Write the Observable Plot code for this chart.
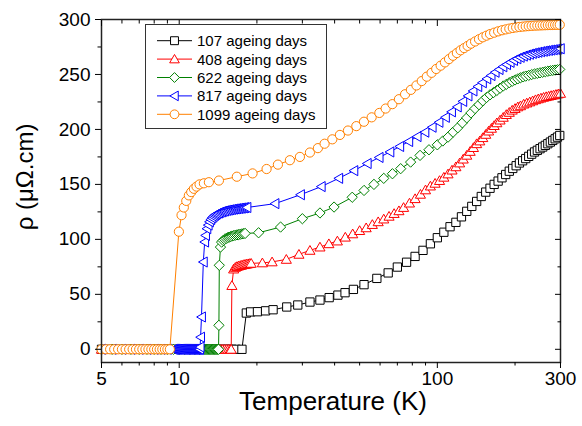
<!DOCTYPE html>
<html><head><meta charset="utf-8">
<script src="https://cdn.jsdelivr.net/npm/d3@7"></script>
<script src="https://cdn.jsdelivr.net/npm/@observablehq/plot@0.6"></script>
<style>body{margin:0;background:#fff}</style>
</head><body><div id="chart"></div>
<script>
// Temperature (K), resistivity (µΩ.cm) pairs
const d107 = [[5.0,0],[5.4,0],[5.8,0],[6.2,0],[6.6,0],[7.0,0],[7.4,0],[7.8,0],[8.2,0],[8.6,0],[9.0,0],[9.5,0],[10.0,0],[10.5,0],[11.0,0],[11.5,0],[12.0,0],[12.5,0],[13.0,0],[13.5,0],[14.0,0],[14.5,0],[15.0,0],[15.5,0],[16.0,0],[16.6,0],[17.5,0],
[18.2,33],[18.9,34],[20.1,34.2],[21.6,35],[23.1,36],[26.1,38.5],[28.8,40.3],[32.1,43],[35.1,44.8],[38.1,47],[41.2,49.3],[43.9,51.5],[47.3,54.5],[52.0,58.8],[58.3,64.5],[64.5,69.5],[70,74.8],[76,79.2],[82,84.5],[88,90],[94,96],[100,101.5],[106,106.5],[112,111.5],[118,115.5],[124,120.5],[130,125.5],[136,130],[142,134.5],[148,139],[154,143],[160,146.5],[166,150],[172,153],[178,156],[184,159],[190,162],[196,164.5],[202,167],[208,169.5],[214,171.5],[220,173.5],[226,175.5],[232,177.5],[238,179.5],[244,181],[250,182.5],[256,184],[262,185.5],[268,187],[274,188.5],[280,190],[286,191.5],[292,193],[298,194.5]];

const d408 = [[5.0,0],[5.5,0],[6.0,0],[6.5,0],[7.0,0],[7.5,0],[8.0,0],[8.5,0],[9.0,0],[9.5,0],[10.0,0],[10.5,0],[11.0,0],[11.5,0],[12.0,0],[12.5,0],[12.75,0],[13.0,0],[13.25,0],[13.5,0],[13.75,0],[14.0,0],[14.25,0],[14.5,0],[14.75,0],[15.0,0],[15.25,0],[15.5,0],[15.75,0],[15.9,0],
[16.0,58],[16.25,73],[16.5,74.5],[16.75,75.3],[17.0,75.8],[17.25,76.2],[17.5,76.6],[17.75,77],[18.0,77.3],[18.25,77.5],[18.5,77.8],[18.75,78],[19.0,78.2],[21.0,78.6],[22.9,79.5],[26.0,81.8],[29.1,86.4],[32.1,90],[35.1,93],[38.0,96],[41.0,98.5],[44.0,102],[47.0,105],[50,108],[53,110.5],[56,113.5],[59,116],[62,118.5],[65,121],[68,123.5],[71,126],[74,129],[78,133],[82,137],[86,141],[90,145],[94,148.5],[98,151],[102,153.5],[106,156.5],[110,159.5],[114,163],[118,166],[122,169.5],[126,173],[130,176.5],[134,180],[138,183.5],[142,187],[146,189.5],[150,192.5],[154,195.5],[158,198.5],[162,201],[166,203.5],[170,206],[175,208.5],[180,211],[185,213.5],[190,215.5],[195,217.5],[200,219],[205,220.5],[210,221.5],[216,223],[222,224],[228,225],[234,226],[240,227],[246,227.8],[252,228.5],[258,229.2],[264,229.8],[270,230.3],[276,230.8],[282,231.3],[288,231.8],[294,232.3],[300,232.8]];

const d622 = [[5.0,0],[5.5,0],[6.0,0],[6.5,0],[7.0,0],[7.5,0],[8.0,0],[8.5,0],[9.0,0],[9.5,0],[10.0,0],[10.5,0],[11.0,0],[11.5,0],[12.0,0],[12.5,0],[12.6,0],[12.7,0],[12.8,0],[12.9,0],[13.0,0],[13.1,0],[13.2,0],[13.3,0],[13.4,0],[13.5,0],[13.6,0],[13.7,0],[13.8,0],[13.9,0],[14.0,0],[14.1,0],[14.2,0],
[14.25,21.8],[14.3,76.4],[14.45,93],[14.6,97.5],[14.8,99],[15.0,100],[15.2,100.8],[15.4,101.5],[15.6,102],[15.8,102.5],[16.0,103],[16.25,103.4],[16.5,103.8],[16.75,104.1],[17.0,104.4],[17.25,104.7],[17.5,105],[17.75,105.2],[18.0,105.4],[20.3,106],[24.7,111.2],[30.0,118.8],[35.1,124],[39.8,129.4],[46.8,138.3],[52.0,144.5],[56.8,150],[62.0,155.5],[67.0,159.7],[72.1,164.3],[78.8,170.3],[85.7,176.4],[92.8,181.5],[100,186],[105,189.5],[110,193],[115,197.5],[120,201.5],[125,206],[130,210.5],[135,215],[140,219],[145,222.5],[150,226],[155,229],[160,231.5],[165,233.5],[170,235.5],[175,237.5],[180,239.5],[185,241],[190,242.5],[195,243.8],[200,245],[205,246],[210,247],[215,247.8],[220,248.5],[226,249.2],[232,249.9],[238,250.5],[244,251],[250,251.5],[256,252],[262,252.5],[268,252.9],[274,253.3],[280,253.7],[286,254],[292,254.3],[298,254.6]];

const d817 = [[5.0,0],[5.5,0],[6.0,0],[6.5,0],[7.0,0],[7.5,0],[8.0,0],[8.5,0],[9.0,0],[9.5,0],[9.6,0],[9.7,0],[9.8,0],[9.9,0],[10.0,0],[10.1,0],[10.2,0],[10.3,0],[10.4,0],[10.5,0],[10.6,0],[10.7,0],[10.8,0],[10.9,0],[11.0,0],[11.1,0],[11.2,0],[11.3,0],[11.4,0],[11.5,0],[11.6,0],[11.7,0],[11.8,0],[11.9,0],[12.0,0],
[12.05,2],[12.1,11],[12.2,29.4],[12.4,79.4],[12.55,97.6],[12.65,103.6],[12.8,109.7],[12.95,113],[13.1,116],[13.25,118],[13.4,119.5],[13.55,120.8],[13.7,121.8],[13.85,122.6],[14.0,123.3],[14.2,124],[14.4,124.6],[14.6,125.1],[14.8,125.5],[15.0,125.9],[15.25,126.3],[15.5,126.6],[15.75,126.9],[16.0,127.2],[16.25,127.5],[16.5,127.7],[16.75,127.9],[17.0,128.1],[17.25,128.3],[17.5,128.5],[17.75,128.7],[18.0,128.9],[18.3,129],[23.5,132.5],[29.5,140.6],[35.5,148],[41.5,155.5],[47.5,162.5],[53.5,169],[59.5,174.5],[65.5,179.5],[71.5,184.5],[77.5,189],[83.5,193.5],[89.5,197.5],[95.5,202],[101.5,206.5],[107.5,211],[113.5,216],[119.5,220.5],[125.5,225.5],[131.5,230.5],[137.5,235],[143.5,239],[149.5,242.5],[155.5,246],[161.5,249],[167.5,252],[173.5,254.5],[179.5,257],[185.5,259],[191.5,261],[197.5,262.8],[203.5,264.3],[209.5,265.6],[215.5,266.7],[221.5,267.6],[227.5,268.4],[233.5,269.1],[239.5,269.7],[245.5,270.2],[251.5,270.7],[257.5,271.1],[263.5,271.5],[269.5,271.9],[275.5,272.2],[281.5,272.5],[287.5,272.8],[293.5,273.1],[299.5,273.4]];

const d1099 = [[5.0,0],[5.2,0],[5.4,0],[5.6,0],[5.8,0],[6.0,0],[6.2,0],[6.4,0],[6.6,0],[6.8,0],[7.0,0],[7.2,0],[7.4,0],[7.6,0],[7.8,0],[8.0,0],[8.2,0],[8.4,0],[8.6,0],[8.8,0],[9.0,0],[9.2,0],
[9.97,107],[10.21,122],[10.42,129],[10.65,135],[10.9,140],[11.13,143],[11.4,146],[11.67,148],[11.99,150],[12.46,151],[13.03,152],[14.25,153.5],[16.72,157],[19.24,160],[21.8,164],[24.12,168],[26.84,172],[29.35,175],[32.09,179],[34.46,183],[36.58,187],[39.19,191],[41.93,195],[45.06,199],[48.54,203],[51.96,207],[55.66,211],[59.62,215],[63.07,219],[66.96,223],[71,227.5],[75,232],[79,236],[83,240],[87,244],[91,248],[95,251.5],[99,255],[103,258],[107,261],[111,264],[115,267],[119,269.5],[123,272],[127,274],[131,276],[135,278],[140,280],[145,282],[150,283.8],[155,285.3],[160,286.7],[166,288],[172,289.2],[178,290.2],[184,291],[190,291.7],[196,292.3],[202,292.8],[208,293.2],[214,293.5],[220,293.8],[226,294],[232,294.2],[238,294.4],[244,294.5],[250,294.6],[256,294.7],[262,294.8],[268,294.9],[274,295],[280,295],[286,295.1],[292,295.1],[298,295.2]];

const labels = ["107 ageing days","408 ageing days","622 ageing days","817 ageing days","1099 ageing days"];
const colors = ["#000000","#ff0000","#008000","#0000ff","#ff8000"];
const xMajor = [5,10,100,300];
const xMinor = [6,7,8,9,20,30,40,50,60,70,80,90,200];
const yMajor = [0,50,100,150,200,250,300];
const yMinor = [25,75,125,175,225,275];

const rad = s => Math.sqrt(s/Math.PI);
const symSquare = {draw(c,s){const h=rad(s)*0.9;c.moveTo(-h,-h);c.lineTo(h,-h);c.lineTo(h,h);c.lineTo(-h,h);c.closePath();}};
const symTriUp = {draw(c,s){const r=rad(s);c.moveTo(0,-r*1.05);c.lineTo(r*1.1,r*0.85);c.lineTo(-r*1.1,r*0.85);c.closePath();}};
const symDiamond = {draw(c,s){const d=rad(s)*1.12;c.moveTo(0,-d);c.lineTo(d,0);c.lineTo(0,d);c.lineTo(-d,0);c.closePath();}};
const symTriLeft = {draw(c,s){const r=rad(s);c.moveTo(-r*1.05,0);c.lineTo(r*0.85,-r*1.1);c.lineTo(r*0.85,r*1.1);c.closePath();}};
const symCircle = {draw(c,s){const r=rad(s);c.moveTo(r,0);c.arc(0,0,r,0,2*Math.PI);c.closePath();}};
const symbols = [symSquare, symTriUp, symDiamond, symTriLeft, symCircle];
const datasets = [d107, d408, d622, d817, d1099];
const R = 4.6;

const seriesMarks = datasets.flatMap((d, i) => {
  const rows = d.map(([T, rho]) => ({T, rho}));
  return [
    Plot.line(rows, {x: "T", y: "rho", stroke: colors[i], strokeWidth: 1}),
    Plot.dot(rows, {x: "T", y: "rho", symbol: symbols[i], r: R, stroke: colors[i], fill: "white", strokeWidth: 1})
  ];
});

const noText = () => "";
const chart = Plot.plot({
  width: 582, height: 426,
  marginLeft: 101, marginRight: 22, marginTop: 19, marginBottom: 64,
  style: {fontFamily: "'Liberation Sans', Arial, sans-serif", fontSize: "19px", color: "#000", background: "white"},
  x: {type: "log", domain: [4.99999, 300.0001]},
  y: {domain: [-12, 300.0001]},
  marks: [
    ...seriesMarks,
    Plot.frame({stroke: "#222", strokeWidth: 1.5}),
    Plot.axisX({ticks: xMajor, anchor: "bottom", tickSize: 6, tickPadding: 3, tickFormat: d => String(d), fontSize: 19, label: null}),
    Plot.axisX({ticks: xMinor, anchor: "bottom", tickSize: 3.5, tickFormat: noText, label: null}),
    Plot.axisX({ticks: xMajor, anchor: "top", tickSize: -6, tickFormat: noText, label: null}),
    Plot.axisX({ticks: xMinor, anchor: "top", tickSize: -3.5, tickFormat: noText, label: null}),
    Plot.axisY({ticks: yMajor, anchor: "left", tickSize: 6, tickPadding: 5, tickFormat: d => String(d), fontSize: 19, label: null}),
    Plot.axisY({ticks: yMinor, anchor: "left", tickSize: 3.5, tickFormat: noText, label: null}),
    Plot.axisY({ticks: yMajor, anchor: "right", tickSize: -6, tickFormat: noText, label: null}),
    Plot.axisY({ticks: yMinor, anchor: "right", tickSize: -3.5, tickFormat: noText, label: null})
  ]
});
document.getElementById("chart").appendChild(chart);

const svg = d3.select(chart);
// make sure the first decade-edge tick (5 K) is present, placed via the plot's own x scale
const xs = chart.scale("x");
const hasFive = Array.from(chart.querySelectorAll("text")).some(t => t.textContent === "5");
if (!hasFive) {
  const x5 = xs.apply(5);
  svg.append("line").attr("x1", x5).attr("x2", x5).attr("y1", 362).attr("y2", 368)
    .attr("stroke", "#000").attr("stroke-width", 1);
  svg.append("line").attr("x1", x5).attr("x2", x5).attr("y1", 19).attr("y2", 25)
    .attr("stroke", "#000").attr("stroke-width", 1);
  svg.append("text").attr("x", x5).attr("y", 371).attr("dy", "0.71em").attr("text-anchor", "middle")
    .attr("font-size", 19).attr("fill", "#000").text("5");
}
// axis titles
svg.append("text").attr("x", 333).attr("y", 410).attr("text-anchor", "middle")
  .attr("font-size", 26).attr("fill", "#000").text("Temperature (K)");
svg.append("text").attr("transform", "translate(33,177) rotate(-90)").attr("text-anchor", "middle")
  .attr("font-size", 24).attr("fill", "#000").text("ρ (μΩ.cm)");

// legend
const lg = svg.append("g").attr("font-size", 15).attr("text-anchor", "start");
lg.append("rect").attr("x", 145.5).attr("y", 24.5).attr("width", 181).attr("height", 104)
  .attr("fill", "white").attr("stroke", "#333").attr("stroke-width", 1);
labels.forEach((lab, i) => {
  const y = 40.7 + i * 18.4;
  lg.append("line").attr("x1", 157).attr("x2", 192).attr("y1", y).attr("y2", y)
    .attr("stroke", colors[i]).attr("stroke-width", 1);
  lg.append("path").attr("transform", `translate(174.5,${y})`)
    .attr("d", d3.symbol(symbols[i], 4.4 * 4.4 * Math.PI)())
    .attr("fill", "white").attr("stroke", colors[i]).attr("stroke-width", 1);
  lg.append("text").attr("x", 197).attr("y", y).attr("dy", "0.36em").attr("text-anchor", "start")
    .attr("fill", "#000").text(lab);
});
</script></body></html>
